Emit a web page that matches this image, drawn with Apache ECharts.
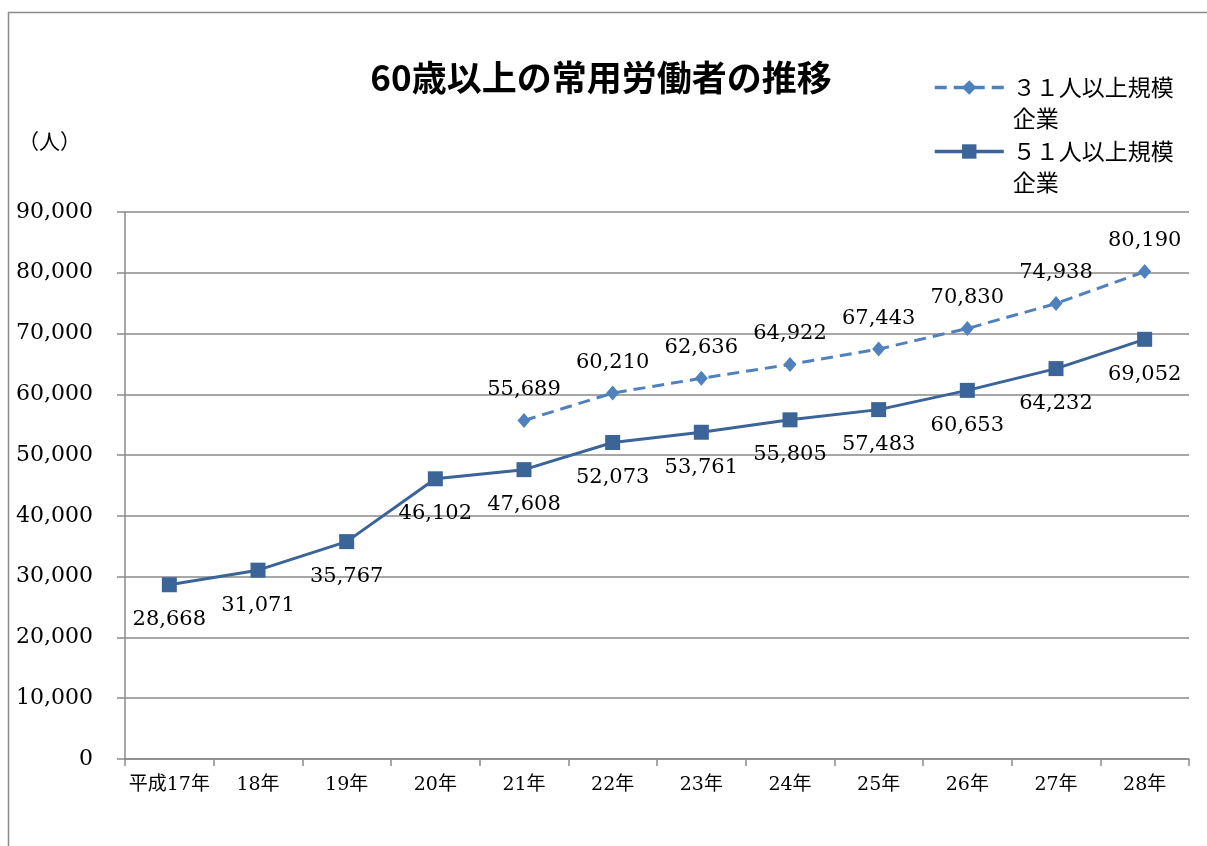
<!DOCTYPE html>
<html>
<head>
<meta charset="utf-8">
<script src="https://cdn.jsdelivr.net/npm/echarts@6/dist/echarts.min.js"></script>
<style>
html,body{margin:0;padding:0;background:#fff;}
#chart{width:1207px;height:846px;}
</style>
</head>
<body>
<div id="chart"></div>
<script>
const categories = ['平成17年','18年','19年','20年','21年','22年','23年','24年','25年','26年','27年','28年'];
const series31Name = '３１人以上規模企業';
const series51Name = '５１人以上規模企業';
const series31 = [null, null, null, null, 55689, 60210, 62636, 64922, 67443, 70830, 74938, 80190];
const series51 = [28668, 31071, 35767, 46102, 47608, 52073, 53761, 55805, 57483, 60653, 64232, 69052];
const yTicks = { min: 0, max: 90000, interval: 10000 };

const serif = "'DejaVu Serif', 'Liberation Serif', 'Noto Sans CJK JP', serif";
const gothic = "'Noto Sans CJK JP', 'Noto Sans', sans-serif";
// leading empty line keeps the icon level with the first text line
const legendFmt = name => '\n' + name.slice(0, 7) + '\n' + name.slice(7);

const chart = echarts.init(document.getElementById('chart'));
const legendBase = {
  orient: 'vertical',
  left: 933,
  padding: 0,
  itemWidth: 69,
  itemHeight: 18,
  itemGap: 0,
  formatter: legendFmt,
  lineStyle: { width: 3.5 },
  textStyle: { fontFamily: gothic, fontSize: 23, color: '#000', lineHeight: 31, padding: [0, 0, 0, 4] },
  selectedMode: false
};
chart.setOption({
  animation: false,
  backgroundColor: '#fff',
  title: {
    text: '60歳以上の常用労働者の推移',
    left: 596, top: 55, textAlign: 'center',
    textStyle: { fontFamily: gothic, fontSize: 35, fontWeight: 'bold', color: '#000' }
  },
  legend: [
    Object.assign({}, legendBase, { top: 41, data: [series31Name] }),
    Object.assign({}, legendBase, { top: 105, data: [series51Name] })
  ],
  graphic: [{
    type: 'rect', silent: true, z: -1,
    shape: { x: 8.5, y: 12.5, width: 1400, height: 1000 },
    style: { fill: 'none', stroke: '#8a8a8a', lineWidth: 1.5 }
  }],
  grid: { left: 125, right: 18, top: 212, bottom: 87 },
  xAxis: {
    type: 'category',
    data: categories,
    boundaryGap: true,
    axisLine: { lineStyle: { color: '#8a8a8a', width: 1.5 } },
    axisTick: { show: true, length: 7, lineStyle: { color: '#8a8a8a', width: 1.5 } },
    axisLabel: { interval: 0, margin: 17, fontFamily: serif, fontSize: 19, color: '#000' }
  },
  yAxis: {
    type: 'value',
    min: yTicks.min, max: yTicks.max, interval: yTicks.interval,
    name: '（人）',
    nameLocation: 'end',
    nameGap: 58,
    nameTextStyle: { fontFamily: serif, fontSize: 21, color: '#000', align: 'right', padding: [0, 44, 0, 0] },
    axisLine: { show: true, lineStyle: { color: '#8a8a8a', width: 1.5 } },
    axisTick: { show: true, length: 8, lineStyle: { color: '#8a8a8a', width: 1.5 } },
    splitLine: { show: true, lineStyle: { color: '#8a8a8a', width: 1.5 } },
    axisLabel: {
      margin: 32, fontFamily: serif, fontSize: 22, color: '#000',
      formatter: v => v.toLocaleString('en-US')
    }
  },
  series: [
    {
      name: series31Name,
      type: 'line',
      data: series31,
      connectNulls: false,
      symbol: 'diamond',
      symbolSize: [13, 15],
      color: '#4F81BD',
      lineStyle: { color: '#4F81BD', width: 3, type: [12, 7] },
      itemStyle: { color: '#4F81BD' },
      label: {
        show: true, position: 'top', distance: 13,
        fontFamily: serif, fontSize: 21, color: '#000',
        formatter: p => p.value == null ? '' : p.value.toLocaleString('en-US')
      },
      z: 3
    },
    {
      name: series51Name,
      type: 'line',
      data: series51,
      symbol: 'rect',
      symbolSize: 15,
      color: '#3B6498',
      lineStyle: { color: '#3B6498', width: 3 },
      itemStyle: { color: '#3B6498' },
      label: {
        show: true, position: 'bottom', distance: 17,
        fontFamily: serif, fontSize: 21, color: '#000',
        formatter: p => p.value.toLocaleString('en-US')
      },
      z: 2
    }
  ]
});
</script>
</body>
</html>
